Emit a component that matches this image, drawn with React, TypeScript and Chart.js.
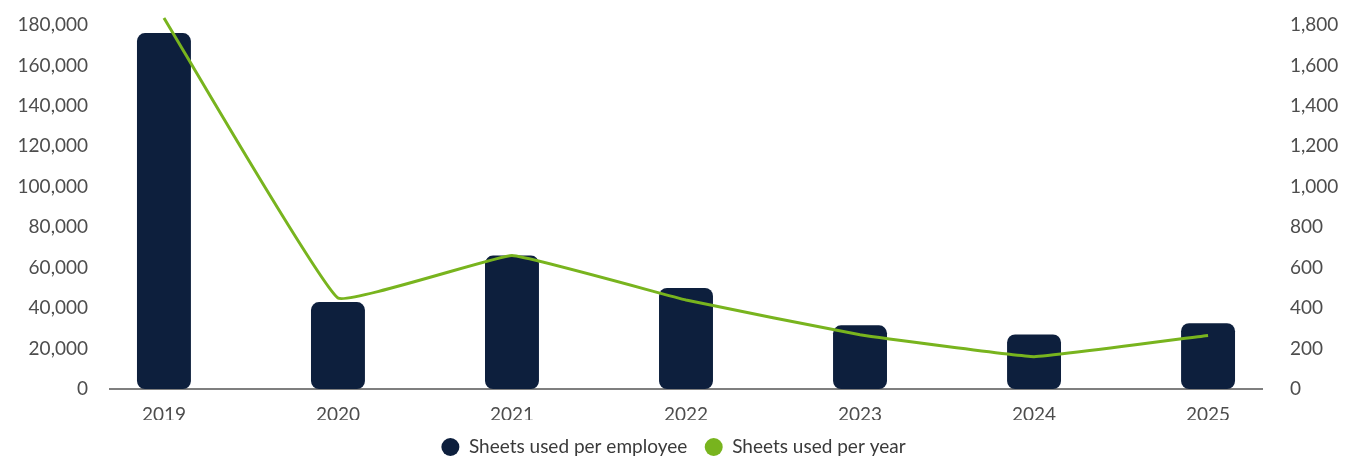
import React, { useEffect, useRef } from "react";
import { Chart, registerables } from "chart.js";

Chart.register(...registerables);

const years = ["2019", "2020", "2021", "2022", "2023", "2024", "2025"];
const sheetsPerEmployee = [176000, 43000, 66000, 50000, 31500, 27000, 32500];
const sheetsPerYear = [1835, 450, 660, 440, 268, 160, 265];
const leftTicks = { min: 0, max: 180000, step: 20000 };
const rightTicks = { min: 0, max: 1800, step: 200 };

const NAVY = "#0d1f3d";
const GREEN = "#78b41e";
const FONT = "Lato";

export default function App() {
  const ref = useRef<HTMLCanvasElement | null>(null);

  useEffect(() => {
    document.body.style.margin = "0";
    const canvas = ref.current;
    if (!canvas) return;
    const chart = new Chart(canvas, {
      type: "bar",
      data: {
        datasets: [
          {
            type: "bar",
            label: "Sheets used per employee",
            data: sheetsPerEmployee.map((v, i) => ({ x: i, y: v })),
            backgroundColor: NAVY,
            borderColor: NAVY,
            borderWidth: 0,
            borderRadius: 8,
            borderSkipped: false,
            barPercentage: 1,
            categoryPercentage: 0.31,
            yAxisID: "y",
            order: 2,
            pointStyle: "circle",
          } as any,
          {
            type: "line",
            label: "Sheets used per year",
            data: sheetsPerYear.map((v, i) => ({ x: i, y: v })),
            borderColor: GREEN,
            backgroundColor: GREEN,
            borderWidth: 3,
            pointRadius: 0,
            tension: 0.08,
            yAxisID: "y1",
            order: 1,
            clip: false,
            pointStyle: "circle",
          } as any,
        ],
      },
      options: {
        animation: false,
        responsive: false,
        maintainAspectRatio: false,
        layout: { padding: { left: 0, right: 0, top: 25, bottom: -5.5 } },
        font: { family: FONT },
        plugins: {
          tooltip: { enabled: false },
          legend: {
            position: "bottom",
            labels: {
              sort: (a: any, b: any) => a.datasetIndex - b.datasetIndex,
              generateLabels: (c: any) =>
                (Chart.defaults.plugins.legend.labels.generateLabels as any)(c).map((l: any) => ({
                  ...l,
                  lineWidth: 0,
                })),
              usePointStyle: true,
              boxWidth: 18,
              boxHeight: 12.73,
              padding: 17.5,
              color: "#3a3a3a",
              font: { family: FONT, size: 19 },
            },
          },
        },
        scales: {
          x: {
            type: "linear",
            position: "bottom",
            offset: false,
            min: -0.31,
            max: years.length - 1 + 0.31,
            grid: { display: false, drawTicks: false, offset: false },
            border: { display: true, color: "#7f7f7f", width: 2 },
            afterFit: (s: any) => {
              s.height = 31;
              s.paddingLeft = 0;
              s.paddingRight = 0;
            },
            ticks: {
              stepSize: 1,
              includeBounds: false,
              autoSkip: false,
              maxRotation: 0,
              padding: 14,
              color: "#4d4d4d",
              font: { family: FONT, size: 19 },
              callback: (v: any) => {
                const n = Number(v);
                return Number.isInteger(n) && n >= 0 && n < years.length ? years[n] : "";
              },
            },
          },
          y: {
            type: "linear",
            position: "left",
            min: leftTicks.min,
            max: leftTicks.max,
            grid: { display: false, drawTicks: false },
            border: { display: false },
            afterFit: (s: any) => {
              s.width = 110;
              s.paddingTop = 0;
              s.paddingBottom = 0;
            },
            ticks: {
              stepSize: leftTicks.step,
              padding: 22,
              color: "#4d4d4d",
              font: { family: FONT, size: 19 },
              callback: (v: any) => Number(v).toLocaleString("en-US"),
            },
          },
          y1: {
            type: "linear",
            position: "right",
            min: rightTicks.min,
            max: rightTicks.max,
            grid: { display: false, drawTicks: false },
            border: { display: false },
            afterFit: (s: any) => {
              s.width = 85;
              s.paddingTop = 0;
              s.paddingBottom = 0;
            },
            ticks: {
              stepSize: rightTicks.step,
              padding: 28,
              color: "#4d4d4d",
              font: { family: FONT, size: 19 },
              callback: (v: any) => Number(v).toLocaleString("en-US"),
            },
          },
        },
      } as any,
    });
    return () => chart.destroy();
  }, []);

  return (
    <div style={{ width: 1347, height: 461 }}>
      <canvas ref={ref} width={1347} height={461} style={{ display: "block" }} />
    </div>
  );
}
